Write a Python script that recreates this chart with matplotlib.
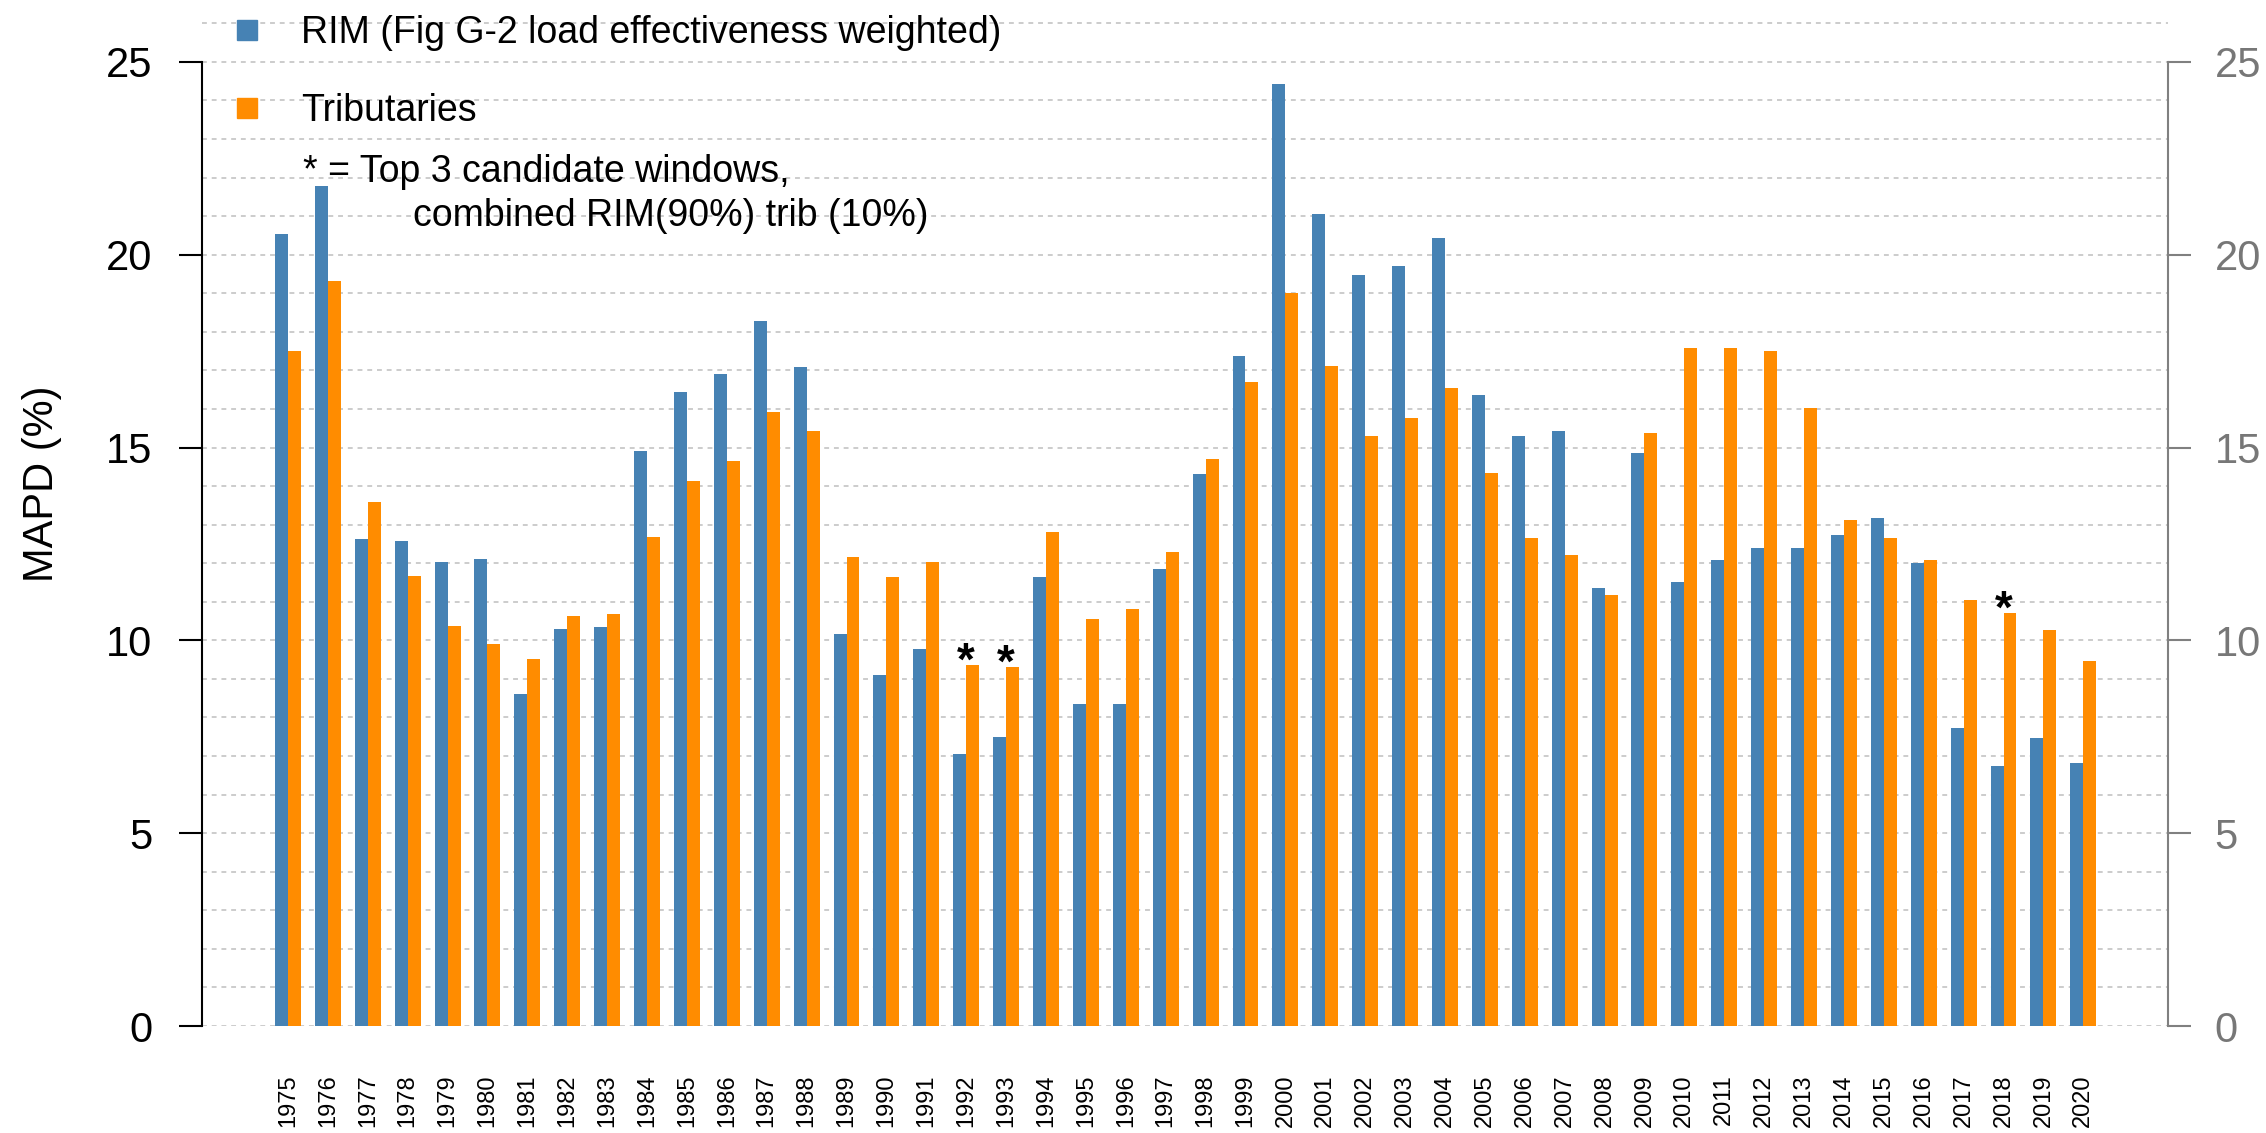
import numpy as np
import matplotlib
matplotlib.use('Agg')
import matplotlib.pyplot as plt
from matplotlib.lines import Line2D
from matplotlib.ticker import MultipleLocator

plt.rcParams['font.family'] = ['Liberation Sans', 'DejaVu Sans']

years = [str(y) for y in range(1975, 2021)]
rim = [20.54, 21.77, 12.63, 12.58, 12.04, 12.11, 8.62, 10.29, 10.35, 14.90,
       16.45, 16.90, 18.27, 17.10, 10.16, 9.10, 9.78, 7.05, 7.50, 11.65,
       8.36, 8.36, 11.85, 14.32, 17.36, 24.43, 21.05, 19.46, 19.71, 20.42,
       16.35, 15.31, 15.44, 11.36, 14.85, 11.50, 12.09, 12.40, 12.40, 12.72,
       13.18, 12.01, 7.74, 6.75, 7.47, 6.81]
trib = [17.49, 19.31, 13.60, 11.67, 10.37, 9.90, 9.52, 10.63, 10.68, 12.69,
        14.12, 14.64, 15.93, 15.42, 12.17, 11.65, 12.04, 9.37, 9.30, 12.82,
        10.55, 10.80, 12.30, 14.70, 16.71, 19.00, 17.12, 15.31, 15.76, 16.53,
        14.34, 12.65, 12.21, 11.18, 15.37, 17.58, 17.58, 17.51, 16.02, 13.12,
        12.66, 12.08, 11.04, 10.71, 10.26, 9.47]
starred = ['1992', '1993', '2018']

blue = '#4682B4'
orange = '#FF8C00'

fig = plt.figure(figsize=(22.66, 11.33), dpi=100)
ax = fig.add_axes([0.0890, 0.0944, 0.8677, 0.8953])

x = np.arange(len(years))
w = 0.325
ax.bar(x - w/2, rim, w, color=blue, zorder=2)
ax.bar(x + w/2, trib, w, color=orange, zorder=2)

# stars over the top candidate windows
for yr in starred:
    i = years.index(yr)
    ax.annotate('*', (i, trib[i]), xytext=(0, -7), textcoords='offset points',
                ha='center', va='baseline', fontsize=33, color='black',
                fontweight='bold')

ax.set_xlim(-2.163, 47.12)
ax.set_ylim(0, 26.3)
ax.set_xticks(x)
ax.set_xticklabels(years, rotation=90, fontsize=17)
ax.tick_params(axis='x', length=0, pad=35)

ax.set_yticks(range(0, 26, 5))
ax.yaxis.set_minor_locator(MultipleLocator(1))
ax.tick_params(axis='y', which='major', length=16.5, width=1.5, pad=19,
               labelsize=30, color='black')
ax.tick_params(axis='y', which='minor', length=0)
ax.grid(axis='y', which='both', color='#cccccc', lw=1.4, linestyle=(0, (2.5, 2.5)))
ax.set_axisbelow(True)
for s in ['top', 'right', 'bottom']:
    ax.spines[s].set_visible(False)
ax.spines['left'].set_bounds(0, 25)
ax.spines['left'].set_linewidth(1.5)

ax.set_ylabel('MAPD (%)', fontsize=30)
ax.yaxis.set_label_coords(-0.0712, 0.535)

ax2 = ax.twinx()
ax2.set_ylim(0, 26.3)
ax2.set_yticks(range(0, 26, 5))
ax2.tick_params(axis='y', length=16.5, width=1.5, pad=17, labelsize=30,
                color='#808080', labelcolor='#777777')
for s in ['top', 'left', 'bottom']:
    ax2.spines[s].set_visible(False)
ax2.spines['right'].set_bounds(0, 25)
ax2.spines['right'].set_color('#808080')
ax2.spines['right'].set_linewidth(1.5)

handles = [Line2D([], [], marker='s', linestyle='none', color=blue, markersize=15),
           Line2D([], [], marker='s', linestyle='none', color=orange, markersize=15)]
ax.legend(handles, ['RIM (Fig G-2 load effectiveness weighted)', 'Tributaries'],
          loc='upper left', bbox_to_anchor=(228/2266, 1 - 15/1133),
          bbox_transform=fig.transFigure, frameon=False, fontsize=27,
          borderpad=0, handlelength=1.0, handletextpad=0.95, labelspacing=1.12,
          borderaxespad=0)

fig.text(303/2266, 1 - 182/1133, '* = Top 3 candidate windows,', fontsize=27, va='baseline')
fig.text(413/2266, 1 - 226/1133, 'combined RIM(90%) trib (10%)', fontsize=27, va='baseline')

plt.savefig('out.png', dpi=100)
